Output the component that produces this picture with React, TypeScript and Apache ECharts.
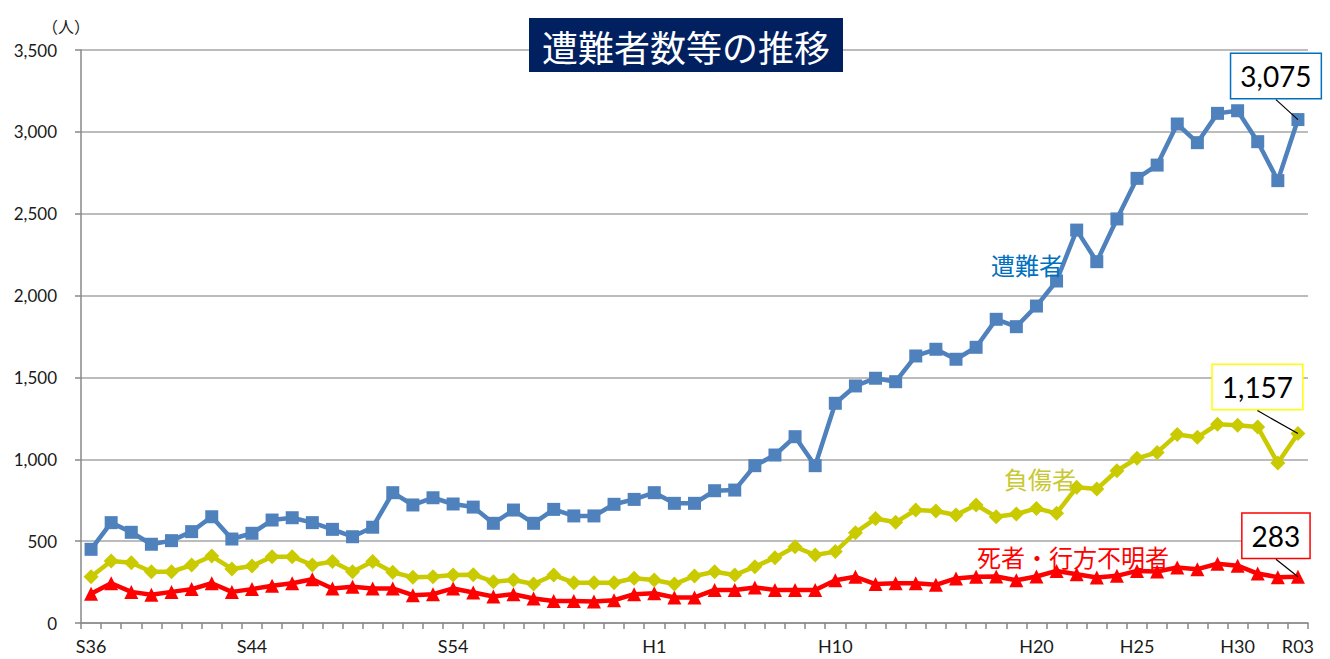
import React, { useEffect, useRef } from "react";
import * as echarts from "echarts";

const categories: string[] = [
  ...Array.from({ length: 28 }, (_, i) => "S" + (36 + i)),
  ...Array.from({ length: 30 }, (_, i) => "H" + (1 + i)),
  "R01", "R02", "R03",
];

const tickLabels = ["S36", "S44", "S54", "H1", "H10", "H20", "H25", "H30", "R03"];

const yTicks = [0, 500, 1000, 1500, 2000, 2500, 3000, 3500];

const victims = [
  450, 613, 554, 481, 503, 558, 649, 513, 548, 629,
  643, 613, 572, 527, 585, 796, 721, 765, 727, 708,
  609, 690, 609, 694, 654, 654, 725, 755, 796, 731,
  731, 808, 812, 961, 1026, 1138, 961, 1342, 1448, 1495,
  1474, 1631, 1672, 1611, 1684, 1855, 1810, 1936, 2089, 2400,
  2207, 2468, 2716, 2797, 3048, 2934, 3113, 3129, 2940, 2702,
  3075,
];

const injured = [
  283, 379, 368, 313, 313, 354, 409, 330, 348, 405,
  405, 354, 375, 313, 375, 310, 279, 283, 293, 295,
  252, 263, 238, 293, 246, 246, 246, 273, 263, 238,
  287, 313, 293, 344, 399, 466, 415, 436, 552, 638,
  615, 690, 684, 660, 721, 649, 666, 700, 670, 829,
  818, 930, 1006, 1042, 1152, 1134, 1214, 1208, 1197, 977,
  1157,
];

const dead = [
  178, 243, 190, 172, 190, 207, 243, 190, 207, 227,
  243, 267, 211, 221, 211, 211, 170, 176, 211, 186,
  162, 176, 150, 135, 135, 131, 139, 176, 182, 156,
  156, 202, 202, 217, 202, 202, 202, 261, 282, 238,
  243, 243, 233, 272, 282, 284, 261, 284, 318, 298,
  278, 288, 318, 315, 339, 329, 362, 350, 302, 280,
  283,
];

const BLUE = "#4F81BD";
const YELLOW = "#CACA00";
const RED = "#FF0000";
const NUM_FONT = 'Lato, "Noto Sans CJK JP", sans-serif';

const BOX_HALF_H = 23.5;

function fmt(v: number) {
  return v.toLocaleString("en-US");
}

function withLastLabel(values: number[], border: string) {
  const last = values.length - 1;
  return values.map((v, i) =>
    i === last
      ? {
          value: v,
          label: {
            show: true,
            position: "inside",
            formatter: fmt(v),
            fontSize: 28,
            fontFamily: NUM_FONT,
            color: "#000",
            backgroundColor: "#fff",
            borderColor: border,
            borderWidth: 1.5,
            padding: [6, 9, 4, 9],
            lineHeight: 34,
          },
        }
      : v
  );
}

function textEl(id: string, text: string, x: number, y: number, fill: string, font: string) {
  return {
    id,
    type: "text",
    x,
    y,
    z: 101,
    style: {
      text,
      fill,
      font,
      textAlign: "center",
      textVerticalAlign: "middle",
      align: "center",
      verticalAlign: "middle",
    },
  };
}

export default function App() {
  const ref = useRef<HTMLDivElement>(null);

  useEffect(() => {
    if (!ref.current) return;
    const chart = echarts.init(ref.current, null, { renderer: "svg" });

    const offsets = [
      { dx: -22, dy: -41 },
      { dx: -40.5, dy: -46.5 },
      { dx: -22, dy: -43.5 },
    ];

    const mkSeries = (
      name: string,
      values: number[],
      color: string,
      symbol: string,
      symbolSize: number,
      border: string,
      off: { dx: number; dy: number },
      z: number
    ) => ({
      name,
      type: "line",
      data: withLastLabel(values, border),
      symbol,
      symbolSize,
      showSymbol: true,
      showAllSymbol: true,
      z,
      lineStyle: { color, width: 4.5 },
      itemStyle: { color, borderWidth: 0 },
      label: { show: false },
      labelLayout: { dx: off.dx, dy: off.dy },
      labelLine: { show: false },
      emphasis: { disabled: true },
    });

    const seriesValues = [dead, injured, victims];

    const baseGraphic: any[] = [
      {
        id: "titleBox",
        type: "rect",
        shape: { x: 529, y: 18, width: 314, height: 54 },
        style: { fill: "#002060" },
        z: 100,
      },
      textEl("title", "遭難者数等の推移", 686, 46, "#fff", '36px "Noto Sans CJK JP"'),
      textEl("unit", "（人）", 66, 26, "#1a1a1a", '16px "Noto Sans CJK JP"'),
      textEl("lbl1", "遭難者", 1027, 264, "#0070C0", '24px "Noto Sans CJK JP"'),
      textEl("lbl2", "負傷者", 1040, 478, "#C8C832", '24px "Noto Sans CJK JP"'),
      textEl("lbl3", "死者・行方不明者", 1073, 556, "#FF0000", '24px "Noto Sans CJK JP"'),
    ];

    chart.setOption({
      animation: false,
      backgroundColor: "#fff",
      grid: { left: 81, right: 22, top: 50, bottom: 36, containLabel: false },
      xAxis: {
        type: "category",
        data: categories,
        boundaryGap: true,
        axisLine: { show: true, lineStyle: { color: "#898989", width: 1.5 } },
        axisTick: { show: true, interval: 0, length: 6, lineStyle: { color: "#898989", width: 1.5 } },
        axisLabel: {
          interval: 0,
          margin: 14,
          fontSize: 18,
          fontFamily: NUM_FONT,
          color: "#1a1a1a",
          formatter: (v: string) => (tickLabels.includes(v) ? v : ""),
        },
        splitLine: { show: false },
      },
      yAxis: {
        type: "value",
        min: yTicks[0],
        max: yTicks[yTicks.length - 1],
        interval: 500,
        axisLine: { show: true, lineStyle: { color: "#898989", width: 1.5 } },
        axisTick: { show: true, length: 6, lineStyle: { color: "#898989", width: 1.5 } },
        axisLabel: {
          margin: 24,
          fontSize: 17,
          fontFamily: NUM_FONT,
          color: "#1a1a1a",
          formatter: (v: number) => fmt(v),
        },
        splitLine: { show: true, lineStyle: { color: "#A6A6A6", width: 1.5 } },
      },
      series: [
        mkSeries("死者・行方不明者", dead, RED, "triangle", 14, RED, offsets[0], 3),
        mkSeries("負傷者", injured, YELLOW, "diamond", 15, "#FFFF00", offsets[1], 4),
        mkSeries("遭難者", victims, BLUE, "rect", 13, "#0070C0", offsets[2], 5),
      ],
      graphic: baseGraphic,
    });

    const leaders = seriesValues.map((vals, si) => {
      const last = vals.length - 1;
      const p = chart.convertToPixel({ seriesIndex: si }, [last, vals[last]]) as number[];
      const off = offsets[si];
      return {
        id: "leader" + si,
        type: "line",
        z: 102,
        shape: {
          x1: p[0] + off.dx,
          y1: p[1] + off.dy + BOX_HALF_H,
          x2: p[0],
          y2: p[1],
        },
        style: { stroke: "#000", lineWidth: 1.2 },
      };
    });

    chart.setOption({ graphic: [...baseGraphic, ...leaders] });

    return () => chart.dispose();
  }, []);

  return (
    <div
      ref={ref}
      style={{ position: "fixed", left: 0, top: 0, width: 1330, height: 659, background: "#fff" }}
    />
  );
}
